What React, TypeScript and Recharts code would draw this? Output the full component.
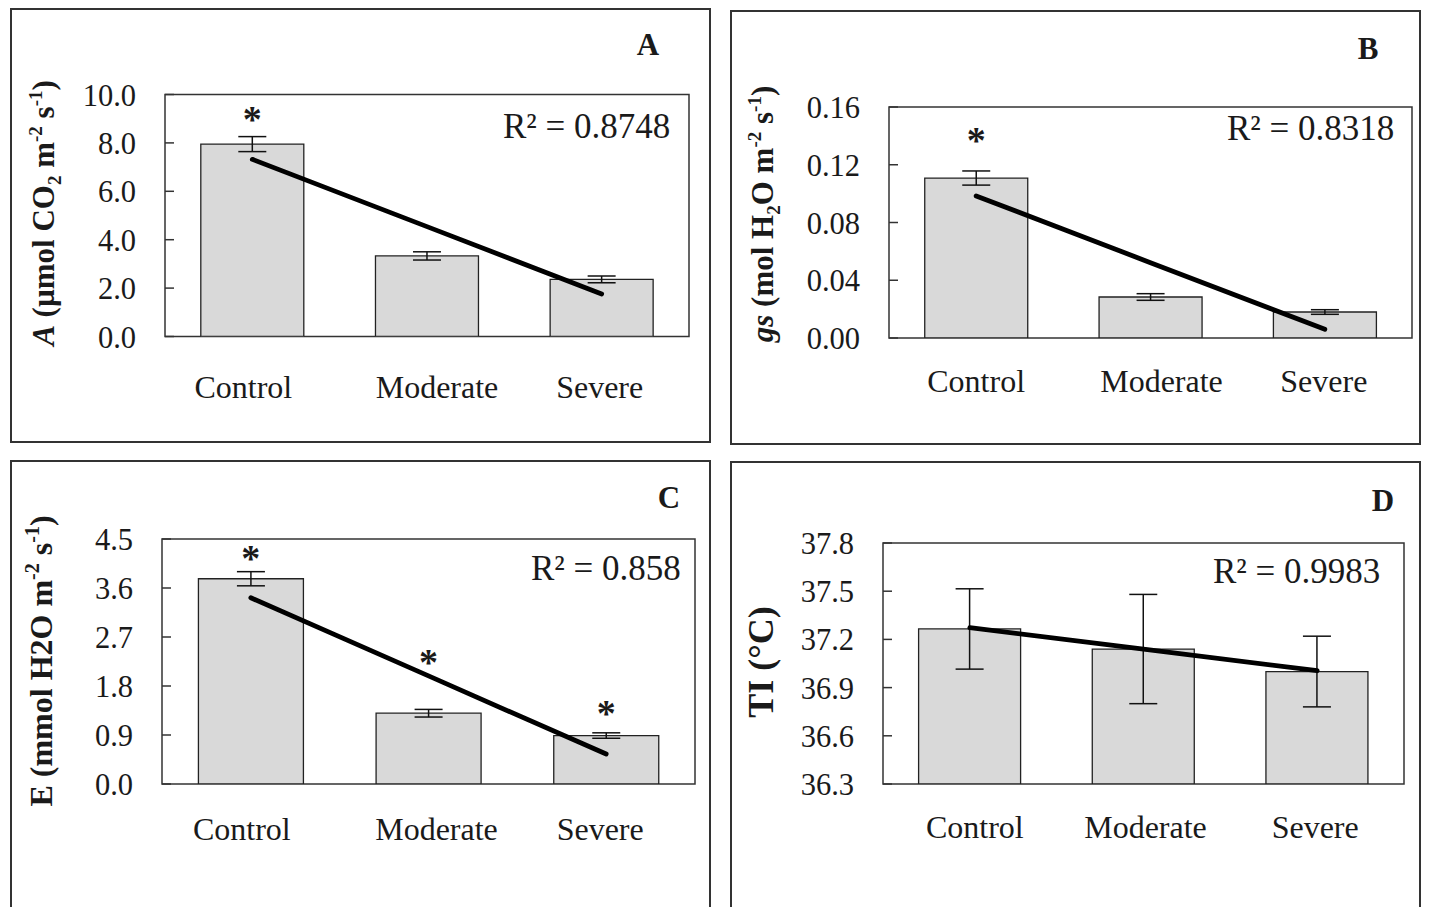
import React from 'react';
import { ComposedChart, Bar, Line, XAxis, YAxis, ErrorBar, ReferenceArea } from 'recharts';

const categories = ['Control', 'Moderate', 'Severe'];

// A: net photosynthesis
const aMeans = [7.95, 3.33, 2.36];
const aErrors = [0.31, 0.17, 0.14];
const aTrend = [7.32, 4.54, 1.76];
const aStars = [9.2, null, null];
const aTicks = [0, 2, 4, 6, 8, 10];

// B: stomatal conductance
const bMeans = [0.1108, 0.0284, 0.018];
const bErrors = [0.0049, 0.0023, 0.0016];
const bTrend = [0.0984, 0.0522, 0.006];
const bStars = [0.1406, null, null];
const bTicks = [0, 0.04, 0.08, 0.12, 0.16];

// C: transpiration
const cMeans = [3.77, 1.3, 0.89];
const cErrors = [0.13, 0.07, 0.05];
const cTrend = [3.42, 1.985, 0.55];
const cStars = [4.24, 2.33, 1.4];
const cTicks = [0, 0.9, 1.8, 2.7, 3.6, 4.5];

// D: leaf temperature
const dMeans = [37.265, 37.14, 37.0];
const dErrors = [0.25, 0.34, 0.22];
const dTrend = [37.273, 37.139, 37.005];
const dStars = [null, null, null];
const dTicks = [36.3, 36.6, 36.9, 37.2, 37.5, 37.8];

const FONT = '"Liberation Serif", "Times New Roman", serif';
const INK = '#1a1a1a';

type Seg = { t: string; it?: boolean; sub?: boolean; sup?: boolean };

const panels = [
  {
    letter: 'A', r2: 'R² = 0.8748', means: aMeans, errors: aErrors, trend: aTrend, stars: aStars, ticks: aTicks, decimals: 1,
    label: [{ t: 'A', it: true }, { t: ' (µmol CO' }, { t: '2', sub: true }, { t: ' m' }, { t: '-2', sup: true }, { t: ' s' }, { t: '-1', sup: true }, { t: ')' }] as Seg[],
    labelSize: 31,
    frame: { x: 10, y: 8, w: 701, h: 435 }, plot: { l: 165, t: 94.5, r: 689, b: 336.5 },
    labelPos: { x: 44, y: 213 }, xBase: 61, xShift: [-9, 10, -2],
    r2Pos: { x: 503, y: 138 }, letterPos: { x: 648, y: 55 },
  },
  {
    letter: 'B', r2: 'R² = 0.8318', means: bMeans, errors: bErrors, trend: bTrend, stars: bStars, ticks: bTicks, decimals: 2,
    label: [{ t: 'gs', it: true }, { t: ' (mol H' }, { t: '2', sub: true }, { t: 'O m' }, { t: '-2', sup: true }, { t: ' s' }, { t: '-1', sup: true }, { t: ')' }] as Seg[],
    labelSize: 31,
    frame: { x: 730, y: 10, w: 691, h: 435 }, plot: { l: 889, t: 107, r: 1412, b: 338 },
    labelPos: { x: 763, y: 214 }, xBase: 54, xShift: [0, 11, -1],
    r2Pos: { x: 1227, y: 140 }, letterPos: { x: 1368, y: 59 },
  },
  {
    letter: 'C', r2: 'R² = 0.858', means: cMeans, errors: cErrors, trend: cTrend, stars: cStars, ticks: cTicks, decimals: 1,
    label: [{ t: 'E (mmol H2O m' }, { t: '-2', sup: true }, { t: ' s' }, { t: '-1', sup: true }, { t: ')' }] as Seg[],
    labelSize: 32,
    frame: { x: 10, y: 460, w: 701, h: 460 }, plot: { l: 162, t: 539, r: 695, b: 784 },
    labelPos: { x: 41, y: 661 }, xBase: 56, xShift: [-9, 8, -6],
    r2Pos: { x: 531, y: 580 }, letterPos: { x: 669, y: 508 },
  },
  {
    letter: 'D', r2: 'R² = 0.9983', means: dMeans, errors: dErrors, trend: dTrend, stars: dStars, ticks: dTicks, decimals: 1,
    label: [{ t: 'TI (°C)' }] as Seg[],
    labelSize: 36,
    frame: { x: 730, y: 461, w: 691, h: 460 }, plot: { l: 883, t: 543, r: 1404, b: 784 },
    labelPos: { x: 761, y: 662 }, xBase: 54, xShift: [5, 2, -2],
    r2Pos: { x: 1213, y: 583 }, letterPos: { x: 1383, y: 511 },
  },
];

type PanelCfg = typeof panels[number];

const YLabel = ({ x, y, segs, size }: { x: number; y: number; segs: Seg[]; size: number }) => {
  let shift = 0;
  const small = Math.round(size * 0.62);
  return (
    <text
      transform={`translate(${x},${y}) rotate(-90)`}
      y={size * 0.33}
      textAnchor="middle"
      fontFamily={FONT}
      fontWeight="bold"
      fontSize={size}
      fill={INK}
      style={{ whiteSpace: 'pre' }}
    >
      {segs.map((s, i) => {
        const want = s.sub ? size * 0.22 : s.sup ? -size * 0.38 : 0;
        const dy = want - shift;
        shift = want;
        return (
          <tspan key={i} dy={dy} fontSize={s.sub || s.sup ? small : size} fontStyle={s.it ? 'italic' : 'normal'}>
            {s.t}
          </tspan>
        );
      })}
    </text>
  );
};

const Panel = ({ p }: { p: PanelCfg }) => {
  const data = categories.map((name, i) => ({
    name,
    mean: p.means[i],
    err: p.errors[i],
    trend: p.trend[i],
    star: p.stars[i],
  }));
  const yW = 80;
  const xH = 70;
  const { frame, plot } = p;
  const margin = {
    top: plot.t - frame.y,
    right: frame.x + frame.w - plot.r,
    left: plot.l - frame.x - yW,
    bottom: frame.h - (plot.b - frame.y) - xH,
  };
  const plotLeft = plot.l - frame.x;
  const axisY = plot.b - frame.y;
  const domain = [p.ticks[0], p.ticks[p.ticks.length - 1]];

  const renderStar = (props: any) => {
    const { cx, cy, value, index } = props;
    if (value == null || cy == null || isNaN(cy)) return <g key={`s${index}`} />;
    return (
      <text key={`s${index}`} x={cx} y={cy + 18} textAnchor="middle" fontFamily={FONT} fontWeight="bold" fontSize={38} fill={INK}>
        *
      </text>
    );
  };

  return (
    <div style={{ position: 'absolute', left: frame.x, top: frame.y, width: frame.w, height: frame.h }}>
      <ComposedChart width={frame.w} height={frame.h} data={data} margin={margin} barCategoryGap="20.5%">
        <XAxis
          dataKey="name"
          height={xH}
          axisLine={false}
          tickLine={false}
          interval={0}
          tick={(t: any) => (
            <text
              x={t.x + (p.xShift[t.index] || 0)}
              y={axisY + p.xBase}
              textAnchor="middle"
              fontFamily={FONT}
              fontSize={32}
              fill={INK}
            >
              {t.payload.value}
            </text>
          )}
        />
        <YAxis
          width={yW}
          domain={domain}
          ticks={p.ticks}
          type="number"
          axisLine={false}
          tickLine={false}
          tickSize={0}
          interval={0}
          allowDataOverflow
          tick={(t: any) => (
            <g>
              <line x1={plotLeft} x2={plotLeft + 9} y1={t.y} y2={t.y} stroke="#333" strokeWidth={1.5} />
              <text x={plotLeft - 29} y={t.y + 11} textAnchor="end" fontFamily={FONT} fontSize={30.5} fill={INK}>
                {Number(t.payload.value).toFixed(p.decimals)}
              </text>
            </g>
          )}
          label={{
            content: () => (
              <YLabel x={p.labelPos.x - frame.x} y={p.labelPos.y - frame.y} segs={p.label} size={p.labelSize} />
            ),
          }}
        />
        <Bar dataKey="mean" fill="#d9d9d9" stroke="#222" strokeWidth={1.3} isAnimationActive={false}>
          <ErrorBar dataKey="err" width={14} stroke="#111" strokeWidth={1.5} />
        </Bar>
        <ReferenceArea y1={domain[0]} y2={domain[1]} fill="none" fillOpacity={0} stroke="#333" strokeWidth={1.5} ifOverflow="visible" />
        <Line
          dataKey="trend"
          type="linear"
          stroke="#000"
          strokeWidth={4.8}
          strokeLinecap="round"
          dot={false}
          activeDot={false}
          isAnimationActive={false}
        />
        <Line dataKey="star" stroke="none" dot={renderStar} activeDot={false} isAnimationActive={false} />
      </ComposedChart>
      <div
        style={{
          position: 'absolute',
          left: 0,
          top: 0,
          width: frame.w,
          height: frame.h,
          border: '2px solid #333',
          boxSizing: 'border-box',
          pointerEvents: 'none',
        }}
      />
    </div>
  );
};

export default function App() {
  return (
    <div style={{ position: 'absolute', left: 0, top: 0, width: 1429, height: 907, overflow: 'hidden', background: '#fff' }}>
      {panels.map(p => (
        <Panel key={p.letter} p={p} />
      ))}
      <svg width={1429} height={907} style={{ position: 'absolute', left: 0, top: 0, pointerEvents: 'none' }}>
        {panels.map(p => (
          <g key={p.letter}>
            <text x={p.r2Pos.x} y={p.r2Pos.y} fontFamily={FONT} fontSize={35} fill={INK}>
              {p.r2}
            </text>
            <text x={p.letterPos.x} y={p.letterPos.y} textAnchor="middle" fontFamily={FONT} fontWeight="bold" fontSize={31} fill={INK}>
              {p.letter}
            </text>
          </g>
        ))}
      </svg>
    </div>
  );
}
